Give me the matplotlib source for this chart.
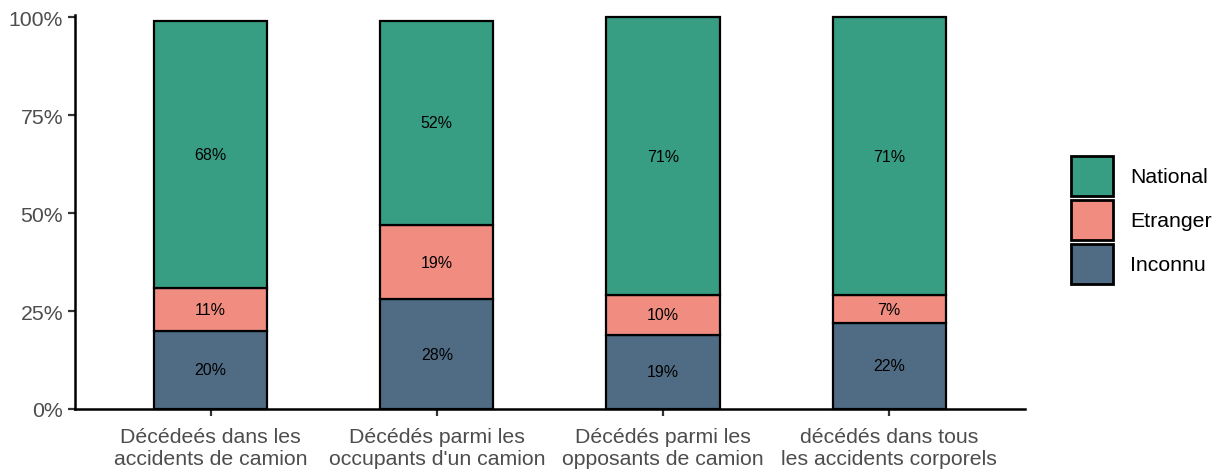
import matplotlib.pyplot as plt
from matplotlib.patches import Patch
import numpy as np

plt.rcParams['font.family'] = ['Liberation Sans', 'DejaVu Sans']

categories = ["Décédeés dans les\naccidents de camion",
              "Décédés parmi les\noccupants d'un camion",
              "Décédés parmi les\nopposants de camion",
              "décédés dans tous\nles accidents corporels"]
inconnu = [20, 28, 19, 22]
etranger = [11, 19, 10, 7]
national = [68, 52, 71, 71]

series = [("Inconnu", inconnu, "#506c84"),
          ("Etranger", etranger, "#f08d80"),
          ("National", national, "#389e83")]

fig = plt.figure(figsize=(12.2, 4.77), dpi=100)
ax = fig.add_axes([0.0615, 0.1405, 0.7785, 0.8255])

x = np.arange(len(categories))
bottom = np.zeros(len(categories))
for name, vals, col in series:
    vals = np.array(vals)
    ax.bar(x, vals, bottom=bottom, width=0.5, color=col, edgecolor="black",
           linewidth=1.6, clip_on=False, zorder=3)
    for xi, b, v in zip(x, bottom, vals):
        ax.text(xi, b + v / 2, f"{v}%", ha="center", va="center", fontsize=11.5,
                color="black", zorder=4)
    bottom = bottom + vals

ax.set_xlim(-0.6, len(categories) - 0.4)
ax.set_ylim(0, 100.5)
ax.set_yticks([0, 25, 50, 75, 100])
ax.set_yticklabels(["0%", "25%", "50%", "75%", "100%"])
ax.set_xticks(x)
ax.set_xticklabels(categories, linespacing=1.2)
ax.tick_params(axis="both", labelsize=15.3, labelcolor="#4d4d4d", color="#333333",
               width=1.6, length=5)
ax.tick_params(axis="x", pad=8)
for s in ["top", "right"]:
    ax.spines[s].set_visible(False)
for s in ["left", "bottom"]:
    ax.spines[s].set_linewidth(1.8)
    ax.spines[s].set_color("black")

handles = [Patch(facecolor=c, edgecolor="black", linewidth=2, label=n) for n, _, c in series[::-1]]
ax.legend(handles=handles, loc="center left", bbox_to_anchor=(1.0485, 0.48), frameon=False,
          fontsize=15.3, handlelength=2.0, handleheight=2.5, labelspacing=0.2,
          handletextpad=0.8, borderpad=0, borderaxespad=0)

fig.savefig("out.png", dpi=100)
